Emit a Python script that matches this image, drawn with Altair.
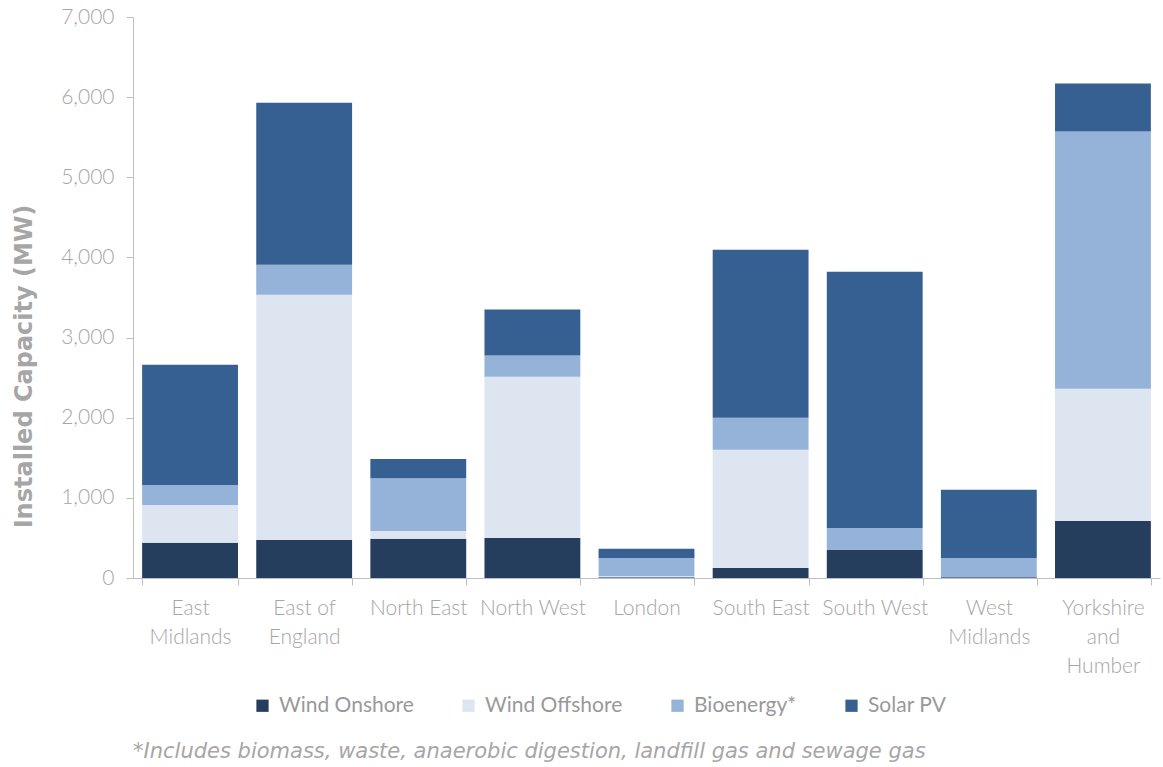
import altair as alt
import pandas as pd

regions = ["East Midlands", "East of England", "North East", "North West", "London",
           "South East", "South West", "West Midlands", "Yorkshire and Humber"]
technologies = ["Wind Onshore", "Wind Offshore", "Bioenergy*", "Solar PV"]
colors = ["#253E5E", "#DCE5F0", "#95B2D8", "#376092"]

wind_onshore = [440, 475, 490, 500, 10, 125, 350, 10, 710]
wind_offshore = [470, 3060, 95, 2010, 15, 1475, 0, 0, 1650]
bioenergy = [250, 375, 660, 265, 225, 400, 275, 240, 3210]
solar_pv = [1500, 2020, 240, 575, 115, 2095, 3195, 850, 600]

series = [wind_onshore, wind_offshore, bioenergy, solar_pv]
rows = []
for t_i, (tech, vals) in enumerate(zip(technologies, series)):
    for r, v in zip(regions, vals):
        rows.append({"Region": r, "Technology": tech, "Capacity": v, "order": t_i})
df = pd.DataFrame(rows)

label_expr = (
    "datum.value == 'East Midlands' ? ['East', 'Midlands'] : "
    "datum.value == 'East of England' ? ['East of', 'England'] : "
    "datum.value == 'West Midlands' ? ['West', 'Midlands'] : "
    "datum.value == 'Yorkshire and Humber' ? ['Yorkshire', 'and', 'Humber'] : datum.value"
)

FONT = "Lato"
GRAY = "#A6A6A6"

chart = alt.Chart(df).mark_bar().encode(
    x=alt.X("Region:N", sort=regions,
            scale=alt.Scale(paddingInner=0.16, paddingOuter=0.08),
            axis=alt.Axis(title=None, labelAngle=0, labelExpr=label_expr,
                          tickBand="extent", labelFontSize=21, labelLineHeight=29,
                          labelColor=GRAY, labelFont=FONT, labelFontWeight=300,
                          labelPadding=12,
                          domainColor="#BFBFBF", tickColor="#BFBFBF", tickSize=7,
                          labelBaseline="top")),
    y=alt.Y("Capacity:Q", stack="zero",
            scale=alt.Scale(domain=[0, 7000], nice=False),
            axis=alt.Axis(title="Installed Capacity (MW)", values=list(range(0, 7001, 1000)),
                          format=",.0f", grid=False, labelFontSize=21, labelColor=GRAY,
                          labelFont=FONT, labelFontWeight=300,
                          titleFont="DejaVu Sans", titleFontSize=24,
                          titleColor=GRAY, titleFontWeight="bold",
                          titleX=-109, titleY=349, titleAngle=270,
                          titleAlign="center", titleBaseline="middle",
                          domainColor="#BFBFBF", tickColor="#BFBFBF", tickSize=7,
                          labelPadding=12)),
    color=alt.Color("Technology:N", sort=technologies,
                    scale=alt.Scale(domain=technologies, range=colors),
                    legend=alt.Legend(title=None, orient="none", direction="horizontal",
                                      legendX=119, legendY=678, columns=4,
                                      columnPadding=44, symbolType="square",
                                      symbolSize=150, symbolStrokeWidth=0,
                                      labelFontSize=21, labelColor="#999999",
                                      labelFont=FONT, labelFontWeight=400, labelOffset=6)),
    order=alt.Order("order:Q", sort="ascending"),
).properties(
    width=1027,
    height=561,
    title=alt.TitleParams(
        text="*Includes biomass, waste, anaerobic digestion, landfill gas and sewage gas",
        orient="bottom", anchor="start", frame="group", font="DejaVu Sans", fontSize=21,
        fontStyle="italic", fontWeight="normal", color="#A6A6A6", offset=25),
    autosize=alt.AutoSizeParams(type="none"),
    padding={"left": 133, "top": 17, "right": 3, "bottom": 189},
).configure_view(stroke=None)

chart.save("out.html", embed_options={"renderer": "svg", "actions": False})
